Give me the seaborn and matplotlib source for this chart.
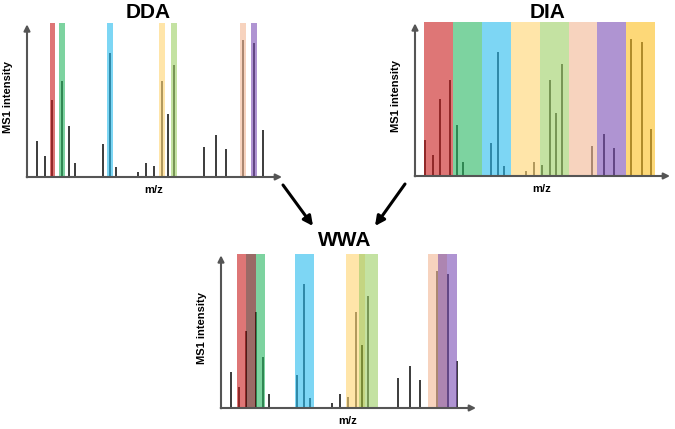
import numpy as np
import matplotlib
matplotlib.use("Agg")
import matplotlib.pyplot as plt
import matplotlib.colors as mcolors
from matplotlib.patches import FancyArrowPatch
import seaborn as sns

# one MS1 spectrum, shared by all three panels (m/z in arbitrary units)
mz = [31, 55, 76, 104, 127, 143, 228, 249, 267, 333, 358, 382, 404, 424, 441,
      532, 566, 596, 648, 680, 707]
intensity = [108, 64, 230, 288, 154, 43, 99, 373, 30, 16, 42, 32, 288, 188, 335,
             89, 125, 83, 410, 403, 142]

# precursors picked for isolation (DDA / WWA)
picked_mz = [76, 104, 249, 404, 441, 648, 680]
dda_width = 17
wwa_width = 57

# DIA fixed windows
dia_edges = [28, 114.5, 201, 287.5, 374, 460.5, 547, 633.5, 720]

window_colors = ["#DE7676", "#7DD4A0", "#7DD6F5", "#FFE6AA",
                 "#C5E3A2", "#F8D4BE", "#B094D2", "#FDD878"]

titles = ["DDA", "DIA", "WWA"]

BAND_ALPHA = 0.6
BAND_TOP = 462
W, H = 675, 429


def rgb(c):
    return np.array(mcolors.to_rgb(c))


def under_color(disp):
    # colour that gives `disp` on white when drawn with BAND_ALPHA
    c = (disp - (1 - BAND_ALPHA)) / BAND_ALPHA
    return np.clip(c, 0, 1)


def blend(c1, c2):
    # overlapping windows: multiply, pulled toward the darker one
    darker = c1 if c1.sum() < c2.sum() else c2
    return 0.6 * c1 * c2 + 0.4 * darker


def draw_bands(ax, bands):
    edges = sorted(set([b[0] for b in bands] + [b[1] for b in bands]))
    for a, b in zip(edges[:-1], edges[1:]):
        mid = (a + b) / 2
        cover = [rgb(c) for x0, x1, c in bands if x0 <= mid <= x1]
        if not cover:
            continue
        disp = cover[0] if len(cover) == 1 else blend(cover[0], cover[1])
        ax.fill_between([a, b], 0, BAND_TOP, color=under_color(disp),
                        alpha=BAND_ALPHA, lw=0, zorder=3)


def draw_panel(ax, bands):
    ax.vlines(mz, 0, intensity, color="#1a1a1a", lw=1.2, zorder=2)
    draw_bands(ax, bands)
    arrow = dict(arrowstyle="-|>", color="#555555", lw=1.5,
                 mutation_scale=9, shrinkA=0, shrinkB=0)
    ax.annotate("", xy=(0, 458), xytext=(0, -1), arrowprops=arrow,
                annotation_clip=False, zorder=5)
    ax.annotate("", xy=(765, 0), xytext=(-1, 0), arrowprops=arrow,
                annotation_clip=False, zorder=5)
    ax.set_xlim(0, 780)
    ax.set_ylim(0, 470)
    ax.axis("off")
    ax.text(380, -40, "m/z", ha="center", va="center", fontsize=8,
            fontweight="bold", clip_on=False)
    ax.text(-57, 240, "MS1 intensity", ha="center", va="center", fontsize=8,
            fontweight="bold", rotation=90, clip_on=False)


def add_axes_px(fig, left, baseline):
    wpx, hpx = 780 / 3, 470 / 3
    return fig.add_axes([left / W, (H - baseline) / H, wpx / W, hpx / H])


sns.set_theme(style="white")
plt.rcParams["font.family"] = ["Liberation Sans", "DejaVu Sans"]
plt.rcParams["text.color"] = "black"

fig = plt.figure(figsize=(W / 100, H / 100), dpi=100)

dda_bands = [(c - dda_width / 2, c + dda_width / 2, col)
             for c, col in zip(picked_mz, window_colors)]
dia_bands = [(a, b, col) for a, b, col in
             zip(dia_edges[:-1], dia_edges[1:], window_colors)]
wwa_bands = [(c - wwa_width / 2, c + wwa_width / 2, col)
             for c, col in zip(picked_mz, window_colors)]

ax1 = add_axes_px(fig, 27, 177)
draw_panel(ax1, dda_bands)
ax2 = add_axes_px(fig, 415, 176)
draw_panel(ax2, dia_bands)
ax3 = add_axes_px(fig, 221, 408)
draw_panel(ax3, wwa_bands)

for label, (x, y) in zip(titles, [(148, 13), (548, 13), (345, 240)]):
    fig.text(x / W, 1 - y / H, label, ha="center", va="center",
             fontsize=15, fontweight="bold")

big = dict(arrowstyle="-|>", color="black", lw=2.2, mutation_scale=14,
           shrinkA=0, shrinkB=0)
fig.add_artist(FancyArrowPatch((283 / W, 1 - 185 / H), (313 / W, 1 - 226 / H),
                               transform=fig.transFigure, **big))
fig.add_artist(FancyArrowPatch((405 / W, 1 - 184 / H), (375 / W, 1 - 226 / H),
                               transform=fig.transFigure, **big))

fig.savefig("out.png", dpi=100)
